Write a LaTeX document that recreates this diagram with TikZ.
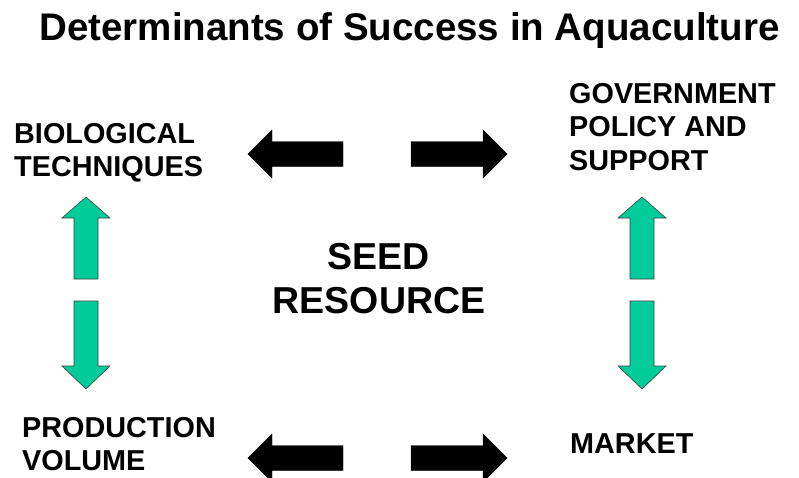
\documentclass[tikz,border=0pt]{standalone}
\usepackage{fontspec}
\setmainfont{Liberation Sans}
\definecolor{seagreen}{HTML}{00CC99}

\begin{document}
\begin{tikzpicture}[x=1pt,y=-1pt]
	\tikzset{factor/.style={inner sep=0pt, anchor=north west, align=left,
		font=\bfseries\fontsize{28.8}{33.5}\selectfont}}
	\tikzset{blockblack/.style={fill=black}}
	\tikzset{blockgreen/.style={fill=seagreen, draw=black!75, line width=0.6pt}}
	\useasboundingbox (0,0) rectangle (799,477);

	\node[inner sep=0pt, anchor=north, font=\bfseries\fontsize{38.5}{46}\selectfont]
		(title) at (409.5,12) {Determinants of Success in Aquaculture};
	\node[factor]	(bio)		at (14,123)		{BIOLOGICAL\\TECHNIQUES};
	\node[factor]	(gov)		at (569,83)		{GOVERNMENT\\POLICY AND\\SUPPORT};
	\node[factor]	(prod)		at (22,417)		{PRODUCTION\\VOLUME};
	\node[factor]	(market)	at (570,433)	{MARKET};
	\node[inner sep=0pt, anchor=north, align=center,
		font=\bfseries\fontsize{37.5}{44}\selectfont]
		(seed) at (379,243) {SEED\\RESOURCE};

	% left/right block arrows, top and bottom row
	\foreach \y in {154,458} {
		\draw[blockblack] (248,\y) -- (272,\y-24) -- (272,\y-12.5) -- (343,\y-12.5)
			-- (343,\y+12.5) -- (272,\y+12.5) -- (272,\y+24) -- cycle;
		\draw[blockblack] (507,\y) -- (483,\y-24) -- (483,\y-12.5) -- (411,\y-12.5)
			-- (411,\y+12.5) -- (483,\y+12.5) -- (483,\y+24) -- cycle;
	}
	% up/down block arrows, left and right column
	\foreach \x in {86,642} {
		\draw[blockgreen] (\x,197) -- (\x+24,218) -- (\x+12,218) -- (\x+12,279)
			-- (\x-12,279) -- (\x-12,218) -- (\x-24,218) -- cycle;
		\draw[blockgreen] (\x,389) -- (\x+24,366) -- (\x+12,366) -- (\x+12,301)
			-- (\x-12,301) -- (\x-12,366) -- (\x-24,366) -- cycle;
	}
\end{tikzpicture}
\end{document}
